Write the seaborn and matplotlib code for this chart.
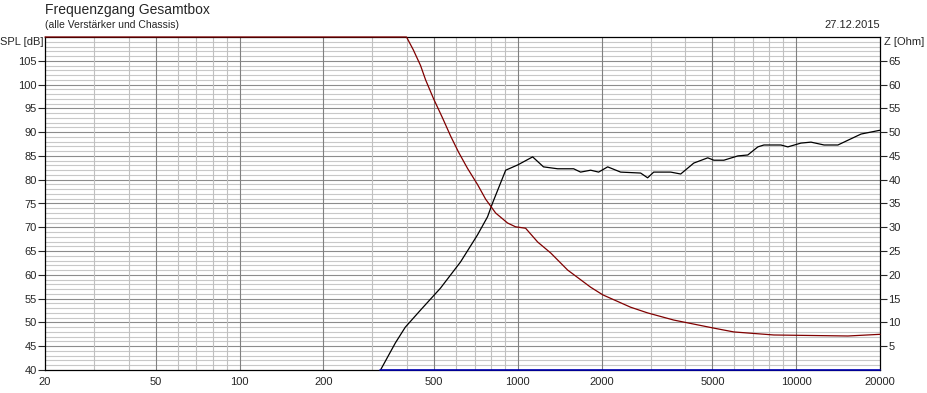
import matplotlib
matplotlib.use("Agg")
import matplotlib.pyplot as plt
import numpy as np
import seaborn as sns
from matplotlib.ticker import FixedLocator, NullFormatter

# SPL curve (left axis, dB)
spl_freq = [321, 363, 394, 447, 527, 622, 716, 778, 811, 904, 998, 1130, 1236,
            1390, 1586, 1680, 1826, 1950, 2102, 2340, 2761, 2925, 3076, 3540,
            3846, 4285, 4810, 5060, 5496, 6168, 6700, 7280, 7655, 8810, 9330,
            10400, 11300, 12590, 14120, 15340, 17100, 20000]
spl_db = [40.0, 45.7, 49.0, 52.6, 57.2, 62.7, 68.4, 72.2, 75.1, 82.0, 83.1, 84.8,
          82.7, 82.3, 82.3, 81.6, 82.0, 81.6, 82.7, 81.6, 81.4, 80.4, 81.6, 81.6,
          81.2, 83.5, 84.6, 84.1, 84.1, 85.0, 85.2, 86.9, 87.3, 87.3, 86.9, 87.7,
          87.9, 87.3, 87.3, 88.3, 89.6, 90.4]

# impedance curve (right axis, Ohm), clipped at the top of the plot
z_freq = [20, 398, 421, 447, 466, 498, 536, 573, 612, 659, 716, 766, 832, 918,
          981, 1066, 1178, 1312, 1510, 1826, 2018, 2541, 2925, 3630, 5060, 5970,
          8314, 15340, 20000]
z_ohm = [70.0, 70.0, 67.3, 64.0, 61.0, 57.0, 53.0, 49.2, 45.8, 42.4, 39.0, 35.9,
         33.0, 30.9, 30.1, 29.8, 26.9, 24.6, 21.0, 17.4, 15.8, 13.2, 12.0, 10.5,
         8.8, 8.0, 7.36, 7.15, 7.5]

# third trace, sitting on the lower edge
blue_freq = [320, 20000]
blue_db = [40.0, 40.0]

x_ticks = [20, 50, 100, 200, 500, 1000, 2000, 5000, 10000, 20000]
x_minor = [30, 40, 60, 70, 80, 90, 300, 400, 600, 700, 800, 900,
           3000, 4000, 6000, 7000, 8000, 9000]

sns.set_style("white")
plt.rcParams["font.family"] = ["Liberation Sans", "DejaVu Sans"]

fig = plt.figure(figsize=(9.27, 3.93), dpi=100)
ax = fig.add_axes([45 / 927, 23 / 393, 835 / 927, 333 / 393])
ax.set_xscale("log")
ax.set_xlim(20, 20000)
ax.set_ylim(40, 110)

# grid: light every 1 dB / minor decade step, darker at labelled values
for v in range(41, 110):
    if v % 5:
        ax.axhline(v, color="#c8c8c8", lw=0.8, zorder=0)
for v in range(45, 110, 5):
    ax.axhline(v, color="#8c8c8c", lw=0.8, zorder=0)
for f in x_minor:
    ax.axvline(f, color="#c0c0c0", lw=0.8, zorder=0)
for f in x_ticks[1:-1]:
    ax.axvline(f, color="#808080", lw=0.8, zorder=0)

sns.lineplot(x=spl_freq, y=spl_db, ax=ax, color="black", lw=0.9, zorder=4)

ax.xaxis.set_major_locator(FixedLocator(x_ticks))
ax.set_xticklabels([str(t) for t in x_ticks])
ax.xaxis.set_minor_formatter(NullFormatter())
ax.tick_params(axis="x", which="both", length=0, pad=5, labelsize=8)
ax.set_yticks(range(40, 110, 5))
ax.tick_params(axis="y", length=5, width=0.8, pad=1, labelsize=8, direction="out")
for s in ax.spines.values():
    s.set_color("black")
    s.set_linewidth(0.9)

ax2 = ax.twinx()
ax2.set_ylim(0, 70)
sns.lineplot(x=z_freq, y=z_ohm, ax=ax2, color="#800000", lw=0.9, clip_on=False)
ax2.set_yticks(range(5, 70, 5))
ax2.tick_params(axis="y", length=5, width=0.8, pad=1, labelsize=8, direction="out")
ax2.set_xlim(20, 20000)
for s in ax2.spines.values():
    s.set_visible(False)

# blue trace drawn over the bottom spine
ax3 = ax.twinx()
ax3.set_ylim(40, 110)
ax3.set_xlim(20, 20000)
ax3.axis("off")
sns.lineplot(x=blue_freq, y=blue_db, ax=ax3, color="#0000b4", lw=1.2, clip_on=False)

fig.text(0 / 927, 1 - 42 / 393, "SPL [dB]", fontsize=8, ha="left", va="center")
fig.text(884 / 927, 1 - 42 / 393, "Z [Ohm]", fontsize=8, ha="left", va="center")
fig.text(45 / 927, 1 - 10 / 393, "Frequenzgang Gesamtbox", fontsize=10, ha="left", va="center")
fig.text(45 / 927, 1 - 25 / 393, "(alle Verstärker und Chassis)", fontsize=7.5, ha="left", va="center")
fig.text(880 / 927, 1 - 25 / 393, "27.12.2015", fontsize=8, ha="right", va="center")

fig.savefig("out.png", dpi=100)
